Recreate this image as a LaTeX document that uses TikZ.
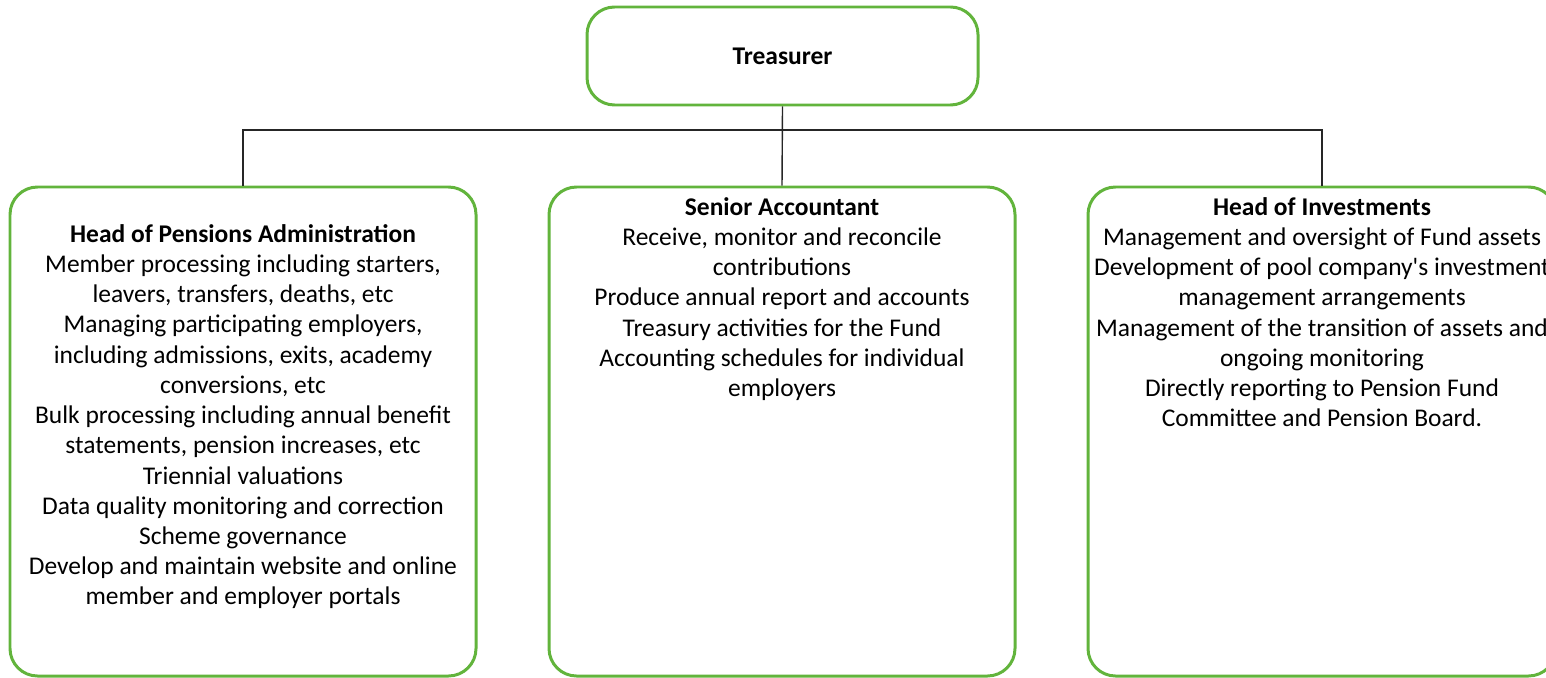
\documentclass[tikz,border=0pt]{standalone}
\usepackage{fontspec}
\setmainfont{Carlito}
\definecolor{boxgreen}{RGB}{98,180,60}

\begin{document}
\begin{tikzpicture}[
    rolebox/.style={rectangle, rounded corners=0.55cm, draw=boxgreen,
      line width=1.7pt, fill=white, inner sep=0pt},
    duties/.style={anchor=north, align=center, inner sep=0pt,
      font=\fontsize{14.5}{17.2}\selectfont},
    link/.style={draw=black!85, line width=0.8pt}]

  \useasboundingbox (0,0) rectangle (30.92,-13.54);

  \node[rolebox, minimum width=7.82cm, minimum height=1.96cm] (treas) at (15.65,-1.12)
    {\fontsize{14.5}{17}\selectfont\bfseries Treasurer};

  \node[rolebox, minimum width=9.32cm, minimum height=9.78cm] (admin)  at (4.86,-8.63)  {};
  \node[rolebox, minimum width=9.32cm, minimum height=9.78cm] (acct)   at (15.64,-8.63) {};
  \node[rolebox, minimum width=9.36cm, minimum height=9.78cm] (invest) at (26.44,-8.63) {};

  \coordinate (bar) at (15.65,-2.6);

  \draw[link] (treas.south) -- (acct.north);
  \draw[link] (admin.north) |- (bar) -| (invest.north);

  \node[duties] (admintxt) at (4.86,-4.48) {\textbf{Head of Pensions Administration}\\
    Member processing including starters,\\
    leavers, transfers, deaths, etc\\
    Managing participating employers,\\
    including admissions, exits, academy\\
    conversions, etc\\
    Bulk processing including annual benefit\\
    statements, pension increases, etc\\
    Triennial valuations\\
    Data quality monitoring and correction\\
    Scheme governance\\
    Develop and maintain website and online\\
    member and employer portals};

  \node[duties] (accttxt) at (15.64,-3.94) {\textbf{Senior Accountant}\\
    Receive, monitor and reconcile\\
    contributions\\
    Produce annual report and accounts\\
    Treasury activities for the Fund\\
    Accounting schedules for individual\\
    employers};

  \node[duties] (investtxt) at (26.44,-3.94) {\textbf{Head of Investments}\\
    Management and oversight of Fund assets\\
    Development of pool company\textquotesingle s investment\\
    management arrangements\\
    Management of the transition of assets and\\
    ongoing monitoring\\
    Directly reporting to Pension Fund\\
    Committee and Pension Board.};

\end{tikzpicture}
\end{document}
